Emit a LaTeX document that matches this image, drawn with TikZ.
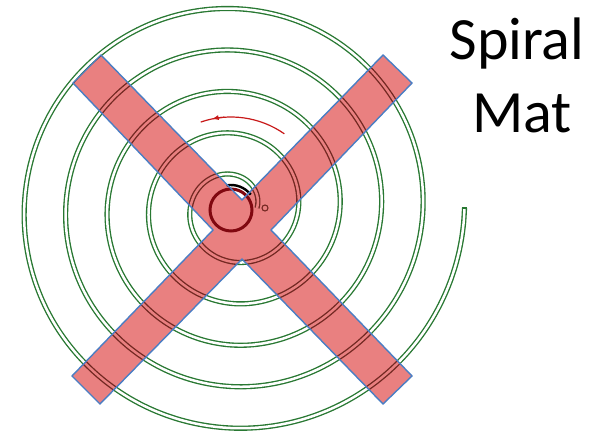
\documentclass[tikz,border=0pt]{standalone}
\usepackage{fontspec}
\setmainfont{Carlito}
\usetikzlibrary{arrows.meta}
\definecolor{spiralgreen}{RGB}{40,120,50}
\definecolor{xpink}{RGB}{233,128,128}
\definecolor{xbrown}{RGB}{115,40,34}
\definecolor{xblue}{RGB}{74,126,196}
\definecolor{ringred}{RGB}{128,8,16}
\definecolor{arrowred}{RGB}{200,25,25}
\begin{document}
\begin{tikzpicture}[x=1pt,y=-1pt,
  spiralline/.style={line width=1.35pt, double distance=2.5pt},
  xoutline/.style={xblue, line width=1.4pt, line join=miter},
  title/.style={anchor=base, inner sep=0pt, font=\fontsize{60}{72}\selectfont}]
\useasboundingbox (0,0) rectangle (603,433);
\fill[white] (0,0) rectangle (603,433);
% key points
\coordinate (c) at (231,210);
\coordinate (send) at (464.5,208);
\coordinate (a1) at (73,83);
\coordinate (a2) at (101,55);
\coordinate (t) at (242,200);
\coordinate (b1) at (383,55);
\coordinate (b2) at (412,83);
\coordinate (r) at (271,230);
\coordinate (c1) at (412,376);
\coordinate (c2) at (383,404);
\coordinate (bn) at (242,259);
\coordinate (d1) at (100,404);
\coordinate (d2) at (72,376);
\coordinate (l) at (213,230);
% spiral
\draw[spiralgreen, double=white, spiralline]
  plot[domain=0:1800, samples=500, smooth, variable=\t]
  ({234+(23+0.1153*\t)*cos(\t)}, {208-(23+0.1153*\t)*sin(\t)});
\draw[spiralgreen, line width=1.35pt] ([xshift=-2.6pt]send) -- ([xshift=2.6pt]send);
% X fill
\fill[xpink] (a1) -- (a2) -- (t) -- (b1) -- (b2) -- (r) -- (c1) -- (c2) -- (bn) -- (d1) -- (d2) -- (l) -- cycle;
\begin{scope}
  \clip (a1) -- (a2) -- (t) -- (b1) -- (b2) -- (r) -- (c1) -- (c2) -- (bn) -- (d1) -- (d2) -- (l) -- cycle;
  \draw[xbrown, double=xpink, spiralline]
    plot[domain=0:1800, samples=500, smooth, variable=\t]
    ({234+(23+0.1153*\t)*cos(\t)}, {208-(23+0.1153*\t)*sin(\t)});
\end{scope}
% centre ring, rotation marks
\draw[ringred, line width=3pt] (c) circle[radius=21];
\draw[black, line width=2.4pt] ([shift={(-100:25)}]c) arc[start angle=-100, end angle=-38, radius=25];
\draw[xbrown, line width=1.1pt] (265,208) circle[radius=3];
\draw[arrowred, line width=1.2pt] ([shift={(-55:93)}]c) arc[start angle=-55, end angle=-109, radius=93];
\draw[arrowred, line width=1.2pt, -{Latex[length=7pt,width=5pt]}] ([shift={(-94:93)}]c) arc[start angle=-94, end angle=-102, radius=93];
% X outline
\draw[xoutline] (a1) -- (a2) -- (t) -- (b1) -- (b2) -- (r) -- (c1) -- (c2) -- (bn) -- (d1) -- (d2) -- (l) -- cycle;
% title
\node[title] (t1) at (517,60) {Spiral};
\node[title] (t2) at (522,133) {Mat};
\end{tikzpicture}
\end{document}
